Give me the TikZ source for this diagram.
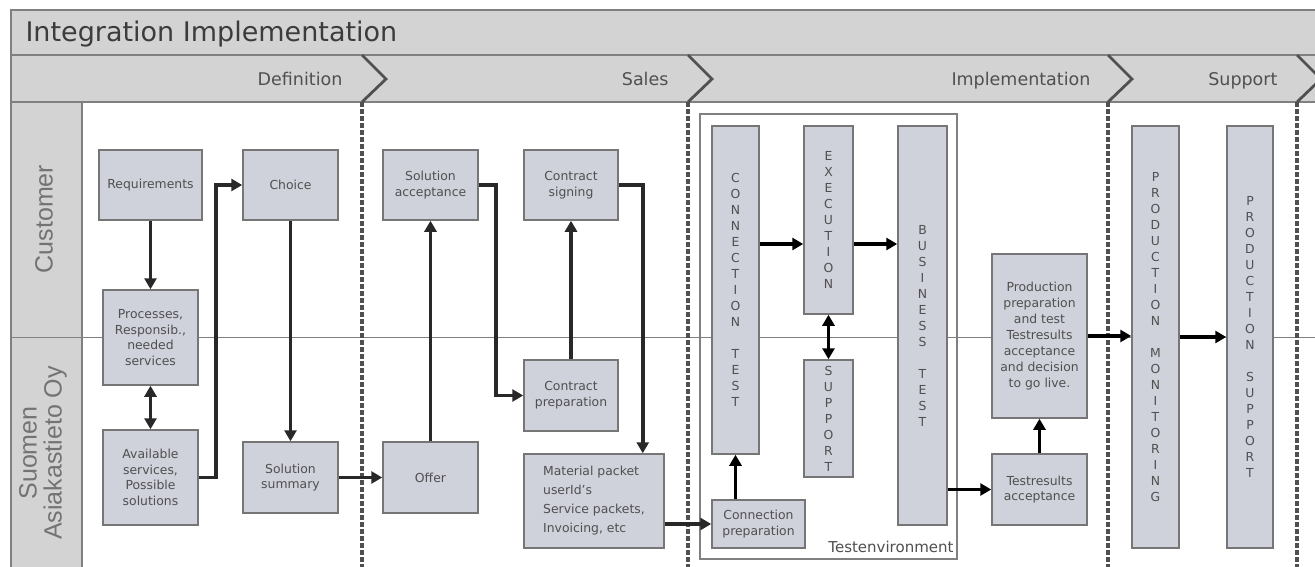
\documentclass[tikz,border=0pt]{standalone}
\usepackage{fontspec}
\setmainfont{DejaVu Sans}
\newfontfamily\lanefont{Liberation Sans}
\usetikzlibrary{arrows.meta}
\definecolor{hdrgray}{RGB}{211,211,211}
\definecolor{framegray}{RGB}{128,128,128}
\definecolor{chevgray}{RGB}{80,80,80}
\definecolor{boxfill}{RGB}{207,209,219}
\definecolor{boxline}{RGB}{118,118,118}
\definecolor{txtgray}{RGB}{80,80,80}
\definecolor{titlegray}{RGB}{60,60,60}
\definecolor{lanegray}{RGB}{115,115,115}
\definecolor{arrowdark}{RGB}{40,40,40}
\newcommand\boxfont{\fontsize{12.4}{15.7}\selectfont}
\newcommand\vfont{\fontsize{12.4}{16}\selectfont}
\newcommand\titlefont{\fontsize{27}{30}\selectfont}
\newcommand\phasefont{\fontsize{17.5}{20}\selectfont}
\newcommand\lanelabel{\lanefont\fontsize{25}{25}\selectfont}

\begin{document}
\begin{tikzpicture}[x=1pt, y=-1pt,
	box/.style={rectangle, draw=boxline, fill=boxfill, line width=1.5pt,
	inner sep=0pt, align=center, text=txtgray, font=\boxfont},
	vbox/.style={box, font=\vfont},
	wh/.style 2 args={minimum width=#1pt, minimum height=#2pt},
	arr/.style={draw=arrowdark, line width=3.5pt,
	-{Triangle[length=11pt,width=12pt]}},
	darr/.style={arr, {Triangle[length=11pt,width=12pt]}-{Triangle[length=11pt,width=12pt]}},
	tarr/.style={arr, draw=black},
	chev/.style={draw=chevgray, line width=2.8pt},
	phasedash/.style={draw=chevgray, line width=3.5pt, dash pattern=on 5pt off 2pt},
	band/.style={fill=hdrgray, draw=framegray, line width=2pt}
	]
	\clip (0,0) rectangle (1315,567);
	\fill[white] (0,0) rectangle (1315,567);
	% header and lanes
	\draw[band] (11,10) rectangle (1330,55);
	\draw[band] (11,55) rectangle (1330,102);
	\draw[band] (11,102) rectangle (82,580);
	\draw[framegray, line width=1pt] (11,337) -- (1315,337);
	\draw(22,42)node[anchor=base west, font=\titlefont, text=titlegray] (title) {Integration Implementation};
	\draw(346,86)node[anchor=base east, font=\phasefont, text=txtgray] (pdef) {Definition};
	\draw(672,86)node[anchor=base east, font=\phasefont, text=txtgray] (psales) {Sales};
	\draw(1094,86)node[anchor=base east, font=\phasefont, text=txtgray] (pimpl) {Implementation};
	\draw(1281,86)node[anchor=base east, font=\phasefont, text=txtgray] (psup) {Support};
	\draw(44,219)node[rotate=90, font=\lanelabel, text=lanegray] (lcust) {Customer};
	\draw(43,453)node[rotate=90, align=center, font=\lanelabel, text=lanegray] (lsaf) {Suomen\\Asiakastieto Oy};
	% phase borders
	\draw[chev] (362,55) -- (386,79) -- (362,102);
	\draw[phasedash] (362,102) -- (362,567);
	\draw[chev] (688,55) -- (712,79) -- (688,102);
	\draw[phasedash] (688,102) -- (688,567);
	\draw[chev] (1108,55) -- (1132,79) -- (1108,102);
	\draw[phasedash] (1108,102) -- (1108,567);
	\draw[chev] (1297,55) -- (1321,79) -- (1297,102);
	\draw[phasedash] (1297,102) -- (1297,567);
	% test environment
	\draw[framegray, line width=1.5pt] (700,114) rectangle (957,559);
	\draw(957,552)node[anchor=base east, font=\fontsize{15}{18}\selectfont, text=txtgray] (tenv) {Testenvironment};
	% definition
	\draw(150.5,185)node[box, wh={103}{70}] (req) {Requirements};
	\draw(290.5,185)node[box, wh={95}{70}] (choice) {Choice};
	\draw(150.5,337.5)node[box, wh={95}{95}] (proc) {Processes,\\Responsib.,\\needed\\services};
	\draw(150.5,477.5)node[box, wh={95}{95}] (avail) {Available\\services,\\Possible\\solutions};
	\draw(290.5,477.5)node[box, wh={95}{71}] (summary) {Solution\\summary};
	% sales
	\draw(430.5,185)node[box, wh={95}{70}] (solacc) {Solution\\acceptance};
	\draw(571,185)node[box, wh={94}{70}] (csign) {Contract\\signing};
	\draw(571,395.5)node[box, wh={94}{71}] (cprep) {Contract\\preparation};
	\draw(430.5,477.5)node[box, wh={95}{71}] (offer) {Offer};
	\draw(594,501)node[box, wh={140}{94}, align=left, font=\fontsize{12.4}{19}\selectfont] (material) {Material packet\\userId's\\Service packets,\\Invoicing, etc};
	% implementation
	\draw(735.5,290)node[vbox, wh={47}{328}] (conntest) {C\\O\\N\\N\\E\\C\\T\\I\\O\\N\\[16pt]T\\E\\S\\T};
	\draw(828.5,220)node[vbox, wh={49}{188}] (execution) {E\\X\\E\\C\\U\\T\\I\\O\\N};
	\draw(828.5,418.5)node[vbox, wh={49}{117}] (support) {S\\U\\P\\P\\O\\R\\T};
	\draw(922.5,325.5)node[vbox, wh={49}{399}] (business) {B\\U\\S\\I\\N\\E\\S\\S\\[16pt]T\\E\\S\\T};
	\draw(758.5,524)node[box, wh={93}{48}] (connprep) {Connection\\preparation};
	\draw(1039.5,336)node[box, wh={95}{164}, font=\fontsize{12.4}{16}\selectfont] (prodprep) {Production\\preparation\\and test\\Testresults\\acceptance\\and decision\\to go live.};
	\draw(1039.5,489.5)node[box, wh={95}{71}] (tresult) {Testresults\\acceptance};
	% support
	\draw(1155.5,337)node[vbox, wh={47}{422}] (prodmon) {P\\R\\O\\D\\U\\C\\T\\I\\O\\N\\[16pt]M\\O\\N\\I\\T\\O\\R\\I\\N\\G};
	\draw(1250,337)node[vbox, wh={46}{422}] (prodsup) {P\\R\\O\\D\\U\\C\\T\\I\\O\\N\\[16pt]S\\U\\P\\P\\O\\R\\T};
	% flow
	\draw[arr] (req.south) to (proc.north);
	\draw[darr] (proc.south) to (avail.north);
	\draw[arr] (avail.east) -- ++(17,0) |- (choice.west);
	\draw[arr] (choice.south) to (summary.north);
	\draw[arr] (summary.east) to (offer.west);
	\draw[arr] (offer.north) to (solacc.south);
	\draw[arr] (solacc.east) -- ++(17,0) |- (cprep.west);
	\draw[arr] (cprep.north) to (csign.south);
	\draw[arr] (csign.east) -| ([xshift=-22pt]material.north east);
	\draw[arr] (material.east |- connprep.west) to (connprep.west);
	\coordinate (exin) at ([yshift=-24pt]execution.west);
	\draw[tarr] (connprep.north -| conntest.south) to (conntest.south);
	\draw[tarr] (conntest.east |- exin) to (exin);
	\draw[tarr] (execution.east |- exin) to (business.west |- exin);
	\draw[tarr, {Triangle[length=11pt,width=12pt]}-{Triangle[length=11pt,width=12pt]}] (execution.south) to (support.north);
	\draw[tarr] (business.east |- tresult.west) to (tresult.west);
	\draw[tarr] (tresult.north) to (prodprep.south);
	\draw[tarr] (prodprep.east) to (prodmon.west |- prodprep.east);
	\draw[tarr] (prodmon.east) to (prodsup.west);
\end{tikzpicture}
\end{document}
